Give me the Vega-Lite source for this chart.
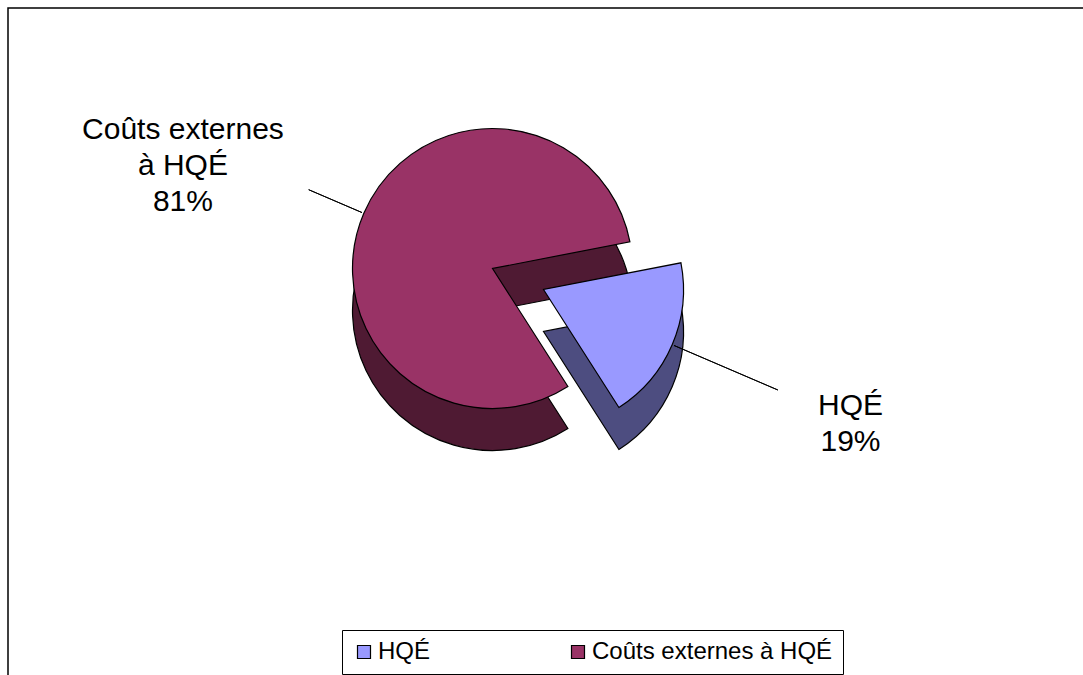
{
  "$schema": "https://vega.github.io/schema/vega-lite/v6.json",
  "width": 1083,
  "height": 675,
  "autosize": {"type": "fit", "contains": "padding"},
  "padding": {"left": 8, "top": 8, "right": -2, "bottom": -2},
  "background": "white",
  "view": {"stroke": "black", "strokeWidth": 1.5, "fill": "white"},
  "config": {
    "view": {"stroke": "black", "strokeWidth": 1.5},
    "font": "Liberation Sans",
    "arc": {"stroke": "black", "strokeWidth": 1.2}
  },
  "data": {
    "values": [
      {"label": "HQÉ", "value": 19},
      {"label": "Coûts externes à HQÉ", "value": 81}
    ]
  },
  "transform": [
    {"stack": "value", "groupby": [], "sort": [{"field": "value", "order": "ascending"}], "as": ["v0", "v1"]},
    {"calculate": "(datum.v0 + datum.v1) / 2", "as": "mid"},
    {"calculate": "replace(datum.label, ' à ', '\\nà ') + '\\n' + datum.value + '%'", "as": "txt"}
  ],
  "layer": [
    {
      "transform": [{"filter": "datum.label !== 'HQÉ'"}],
      "mark": {"type": "arc", "radius": 140, "xOffset": -54, "yOffset": -32, "fill": "#4f1a33"},
      "encoding": {
        "theta": {"field": "v0", "type": "quantitative", "scale": {"domain": [0, 100], "range": [1.379, 7.662]}},
        "theta2": {"field": "v1"}
      }
    },
    {
      "transform": [{"filter": "datum.label !== 'HQÉ'"}],
      "mark": {"type": "arc", "radius": 140, "xOffset": -54, "yOffset": -74},
      "encoding": {
        "theta": {"field": "v0", "type": "quantitative", "scale": {"domain": [0, 100], "range": [1.379, 7.662]}},
        "theta2": {"field": "v1"},
        "color": {
          "field": "label", "type": "nominal",
          "scale": {"domain": ["HQÉ", "Coûts externes à HQÉ"], "range": ["#9999ff", "#993366"]},
          "legend": {
            "orient": "none", "legendX": 334, "legendY": 622, "direction": "horizontal",
            "title": null, "symbolType": "square", "symbolSize": 169,
            "symbolStrokeColor": "black", "symbolStrokeWidth": 1,
            "labelFontSize": 24, "labelOffset": 2, "labelColor": "black", "labelLimit": 400,
            "columnPadding": 135, "padding": 10,
            "strokeColor": "black", "fillColor": "white"
          }
        }
      }
    },
    {
      "transform": [{"filter": "datum.label === 'HQÉ'"}],
      "mark": {"type": "arc", "radius": 140, "xOffset": -3, "yOffset": -11, "fill": "#4d4d80"},
      "encoding": {
        "theta": {"field": "v0", "type": "quantitative", "scale": {"domain": [0, 100], "range": [1.379, 7.662]}},
        "theta2": {"field": "v1"}
      }
    },
    {
      "transform": [{"filter": "datum.label === 'HQÉ'"}],
      "mark": {"type": "arc", "radius": 140, "xOffset": -3, "yOffset": -53},
      "encoding": {
        "theta": {"field": "v0", "type": "quantitative", "scale": {"domain": [0, 100], "range": [1.379, 7.662]}},
        "theta2": {"field": "v1"},
        "color": {"field": "label", "type": "nominal", "scale": {"domain": ["HQÉ", "Coûts externes à HQÉ"], "range": ["#9999ff", "#993366"]}}
      }
    },
    {
      "transform": [{"filter": "datum.label !== 'HQÉ'"}],
      "mark": {"type": "arc", "radius": 200, "radius2": 142, "xOffset": -54, "yOffset": -74, "fillOpacity": 0, "stroke": "black", "strokeWidth": 1},
      "encoding": {
        "theta": {"field": "mid", "type": "quantitative", "scale": {"domain": [0, 100], "range": [1.379, 7.662]}},
        "theta2": {"field": "mid"}
      }
    },
    {
      "transform": [{"filter": "datum.label === 'HQÉ'"}],
      "mark": {"type": "arc", "radius": 255, "radius2": 142, "xOffset": -3, "yOffset": -53, "fillOpacity": 0, "stroke": "black", "strokeWidth": 1},
      "encoding": {
        "theta": {"field": "mid", "type": "quantitative", "scale": {"domain": [0, 100], "range": [1.379, 7.662]}},
        "theta2": {"field": "mid"}
      }
    },
    {
      "transform": [{"filter": "datum.label !== 'HQÉ'"}],
      "mark": {"type": "text", "radius": 327, "xOffset": -54, "yOffset": -74, "dx": -9, "dy": -10, "fontSize": 30, "lineHeight": 36, "align": "center", "baseline": "middle", "lineBreak": "\n", "color": "black"},
      "encoding": {
        "theta": {"field": "mid", "type": "quantitative", "scale": {"domain": [0, 100], "range": [1.379, 7.662]}},
        "text": {"field": "txt"}
      }
    },
    {
      "transform": [{"filter": "datum.label === 'HQÉ'"}],
      "mark": {"type": "text", "radius": 334, "xOffset": -3, "yOffset": -53, "dy": -15, "fontSize": 30, "lineHeight": 36, "align": "center", "baseline": "middle", "lineBreak": "\n", "color": "black"},
      "encoding": {
        "theta": {"field": "mid", "type": "quantitative", "scale": {"domain": [0, 100], "range": [1.379, 7.662]}},
        "text": {"field": "txt"}
      }
    }
  ]
}
